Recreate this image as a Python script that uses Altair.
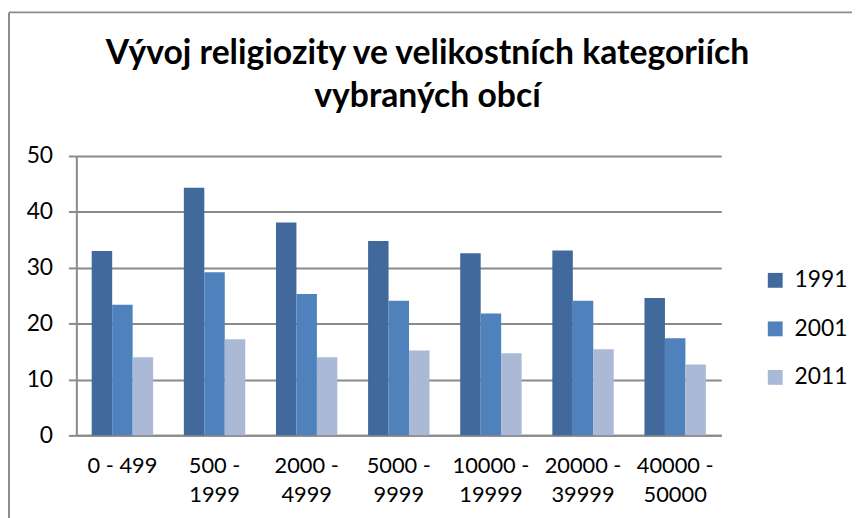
import altair as alt
import pandas as pd

categories = ["0 - 499", "500 - 1999", "2000 - 4999", "5000 - 9999",
              "10000 - 19999", "20000 - 39999", "40000 - 50000"]
years = ["1991", "2001", "2011"]
v1991 = [33.0, 44.3, 38.1, 34.8, 32.6, 33.1, 24.6]
v2001 = [23.4, 29.2, 25.3, 24.1, 21.8, 24.1, 17.4]
v2011 = [14.0, 17.2, 14.0, 15.2, 14.7, 15.4, 12.7]
y_ticks = [0, 10, 20, 30, 40, 50]
colors = ["#41699B", "#4F81BD", "#AAB9D6"]
title_lines = ["Vývoj religiozity ve velikostních kategoriích", "vybraných obcí"]

rows = []
for yr, vals in zip(years, [v1991, v2001, v2011]):
    for c, v in zip(categories, vals):
        rows.append({"kategorie": c, "rok": yr, "hodnota": v})
df = pd.DataFrame(rows)

FONT = "Lato"
GRID = "#8a8a8a"

label_expr = ("length(datum.label) > 7 ? "
              "[substring(datum.label, 0, indexof(datum.label, ' - ') + 2), "
              "substring(datum.label, indexof(datum.label, ' - ') + 3)] : datum.label")

bars = alt.Chart(df).mark_bar().encode(
    x=alt.X("kategorie:N", sort=categories,
            scale=alt.Scale(paddingInner=0.3333, paddingOuter=0.16667),
            axis=alt.Axis(title=None, labelAngle=0, ticks=False, labelExpr=label_expr,
                          labelPadding=20, labelLineHeight=30, labelFontSize=22,
                          domainColor=GRID, domainWidth=2)),
    xOffset=alt.XOffset("rok:N", sort=years),
    y=alt.Y("hodnota:Q", scale=alt.Scale(domain=[0, 50]),
            axis=alt.Axis(title=None, values=y_ticks, grid=True, gridColor=GRID,
                          gridWidth=2, tickColor=GRID, tickWidth=2, tickSize=8,
                          domainColor=GRID, domainWidth=2, labelPadding=16,
                          labelFontSize=23)),
    color=alt.Color("rok:N", scale=alt.Scale(domain=years, range=colors),
                    legend=alt.Legend(title=None, orient="none", legendX=694, legendY=114,
                                      symbolType="square", symbolSize=225,
                                      symbolStrokeWidth=0, labelFontSize=23,
                                      labelFont=FONT, rowPadding=25, labelOffset=8)),
)

one = pd.DataFrame({"a": [0]})
top_line = alt.Chart(one).mark_rule(stroke="#8c8c8c", strokeWidth=2).encode(
    x=alt.value(-68), x2=alt.value(900), y=alt.value(-145), y2=alt.value(-145))
left_line = alt.Chart(one).mark_rule(stroke="#8c8c8c", strokeWidth=2).encode(
    x=alt.value(-68), x2=alt.value(-68), y=alt.value(-145), y2=alt.value(600))

chart = alt.layer(bars, top_line, left_line).properties(
    width=651, height=282,
    autosize="none",
    padding={"left": 69, "top": 147, "right": 132, "bottom": 81},
    title=alt.TitleParams(text=title_lines, font=FONT, fontSize=34, fontWeight="bold",
                          anchor="middle", dx=29, dy=134, offset=30, lineHeight=44,
                          color="black"),
).configure_view(stroke=None).configure_axis(
    labelFont=FONT, labelColor="black"
)

chart.save("out.html", embed_options={"renderer": "svg", "actions": False})
